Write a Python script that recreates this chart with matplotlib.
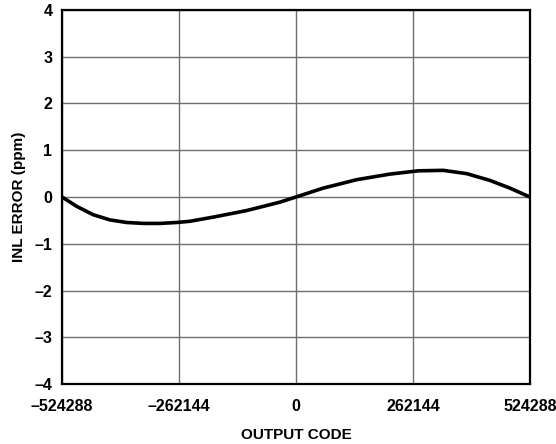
import matplotlib
matplotlib.use("Agg")
import matplotlib.pyplot as plt
import numpy as np

# values
codes = [-524288, -491350, -454200, -416700, -379300, -341900, -304700, -267300,
         -238000, -185300, -110500, -35800, 0, 61200, 136000, 210700, 274100,
         330100, 382600, 434700, 479600, 524288]
inl = [0.0, -0.20, -0.38, -0.49, -0.545, -0.565, -0.565, -0.545,
       -0.52, -0.43, -0.29, -0.11, 0.0, 0.19, 0.37, 0.49, 0.56,
       0.57, 0.50, 0.355, 0.19, 0.0]

xticks = [-524288, -262144, 0, 262144, 524288]
yticks = [-4, -3, -2, -1, 0, 1, 2, 3, 4]

def lab(v):
    return ("\u2013" + str(abs(v))) if v < 0 else str(v)

plt.rcParams['font.family'] = ['Liberation Sans', 'DejaVu Sans']

fig = plt.figure(figsize=(5.56, 4.44), dpi=100)
ax = fig.add_axes([0.1115, 0.1351, 0.8415, 0.8424])

ax.plot(codes, inl, color="black", lw=2.6, solid_capstyle="round", solid_joinstyle="round")

ax.set_xlim(-524288, 524288)
ax.set_ylim(-4, 4)
ax.set_xticks(xticks)
ax.set_yticks(yticks)
ax.set_xticklabels([lab(v) for v in xticks], fontsize=11.5, fontweight="bold")
ax.set_yticklabels([lab(v) for v in yticks], fontsize=11.5, fontweight="bold")
ax.tick_params(axis="x", length=0, pad=11)
ax.tick_params(axis="y", length=0, pad=7)
ax.grid(True, color="#6e6e6e", lw=1)
for s in ax.spines.values():
    s.set_linewidth(1.6)
    s.set_color("black")

ax.set_xlabel("OUTPUT CODE", fontsize=11, fontweight="bold", labelpad=10)
ax.set_ylabel("INL ERROR (ppm)", fontsize=11, fontweight="bold", labelpad=6)

fig.savefig("out.png", dpi=100)
